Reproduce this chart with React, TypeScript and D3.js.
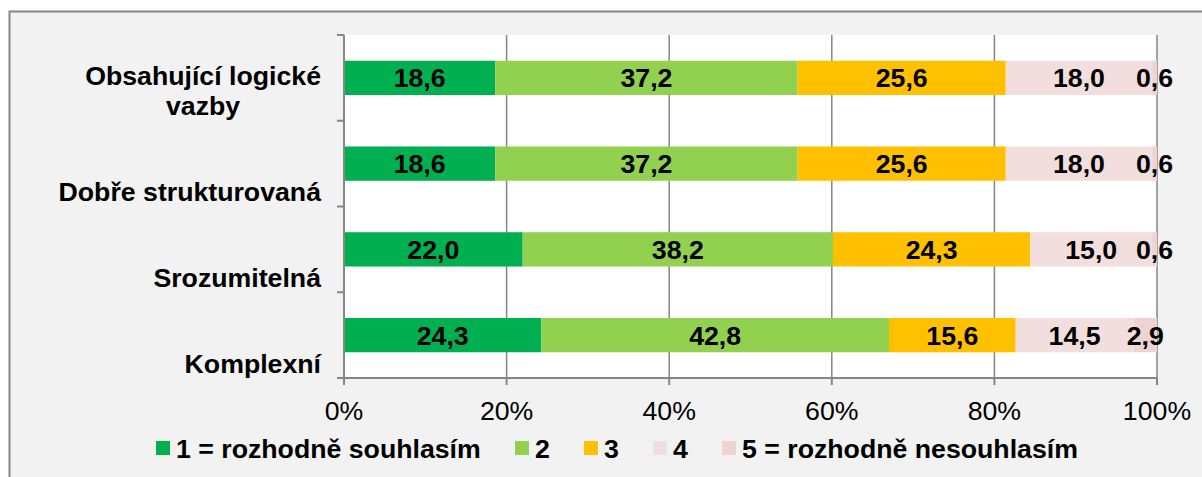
import React, { useEffect, useRef } from 'react';
import * as d3 from 'd3';

// categories, top to bottom
const categories = ['Obsahující logické vazby', 'Dobře strukturovaná', 'Srozumitelná', 'Komplexní'];
const categoryLines = [['Obsahující logické', 'vazby'], ['Dobře strukturovaná'], ['Srozumitelná'], ['Komplexní']];

const seriesNames = ['1 = rozhodně souhlasím', '2', '3', '4', '5 = rozhodně nesouhlasím'];
const s1 = [18.6, 18.6, 22.0, 24.3];
const s2 = [37.2, 37.2, 38.2, 42.8];
const s3 = [25.6, 25.6, 24.3, 15.6];
const s4 = [18.0, 18.0, 15.0, 14.5];
const s5 = [0.6, 0.6, 0.6, 2.9];
const xTicks = [0, 0.2, 0.4, 0.6, 0.8, 1];

const colors = ['#00b050', '#92d050', '#ffc000', '#f2dfdd', '#efd3d3'];

const App = () => {
  const svgRef = useRef<SVGSVGElement>(null);

  useEffect(() => {
    const svg = d3.select(svgRef.current);
    svg.selectAll('*').remove();

    const W = 1202, H = 477;
    const font = 'Arial, "Liberation Sans", sans-serif';
    const fs = '26.7px';
    const axisColor = '#868686';

    // outer chart area
    svg.append('rect').attr('x', 0).attr('y', 0).attr('width', W).attr('height', H).attr('fill', '#ffffff');
    svg.append('rect')
      .attr('x', 9.5).attr('y', 11.5).attr('width', W).attr('height', H)
      .attr('fill', '#f2f2f2').attr('stroke', axisColor).attr('stroke-width', 2);

    const left = 344, right = 1157, top = 35, bottom = 378;

    const x = d3.scaleLinear().domain([0, 1]).range([left, right]);
    const y = d3.scaleBand().domain(categories).range([top, bottom]).paddingInner(0.6).paddingOuter(0.3);

    svg.append('rect')
      .attr('x', left).attr('y', top).attr('width', right - left).attr('height', bottom - top)
      .attr('fill', '#ffffff');

    // grid lines
    svg.append('g').selectAll('line')
      .data(xTicks.slice(1))
      .enter().append('line')
      .attr('x1', d => x(d)).attr('x2', d => x(d))
      .attr('y1', top).attr('y2', bottom)
      .attr('stroke', axisColor).attr('stroke-width', 1.5);

    // stacked data, normalised to 100 %
    const series = [s1, s2, s3, s4, s5];
    const rows = categories.map((c, i) => {
      const vals = series.map(s => s[i]);
      const total = d3.sum(vals);
      let acc = 0;
      return vals.map((v, k) => {
        const seg = { cat: c, k, v, x0: acc / total, x1: (acc + v) / total };
        acc += v;
        return seg;
      });
    });

    const bars = svg.append('g');
    rows.forEach(row => {
      bars.selectAll(null)
        .data(row)
        .enter().append('rect')
        .attr('x', d => x(d.x0))
        .attr('y', d => y(d.cat)!)
        .attr('width', d => x(d.x1) - x(d.x0))
        .attr('height', y.bandwidth())
        .attr('fill', d => colors[d.k]);
    });
    rows.forEach(row => {
      bars.selectAll(null)
        .data(row)
        .enter().append('text')
        .attr('x', d => (x(d.x0) + x(d.x1)) / 2)
        .attr('y', d => y(d.cat)! + y.bandwidth() / 2)
        .attr('dy', '0.36em')
        .attr('text-anchor', 'middle')
        .style('font-family', font)
        .style('font-weight', 'bold')
        .style('font-size', fs)
        .attr('fill', '#000000')
        .text(d => d3.format('.1f')(d.v).replace('.', ','));
    });

    // y axis
    svg.append('line')
      .attr('x1', left).attr('x2', left).attr('y1', top).attr('y2', bottom)
      .attr('stroke', axisColor).attr('stroke-width', 2);
    const yTicks = [top, ...categories.map(c => y(c)! + y.bandwidth() / 2 + y.step() / 2)];
    svg.append('g').selectAll('line')
      .data(yTicks)
      .enter().append('line')
      .attr('x1', left - 7).attr('x2', left)
      .attr('y1', d => d).attr('y2', d => d)
      .attr('stroke', axisColor).attr('stroke-width', 2);

    // category labels (bottom aligned, Excel style)
    const labelRight = 321;
    categories.forEach((c, i) => {
      const lines = categoryLines[i];
      const cy = y(c)! + y.bandwidth() / 2 + 28;
      const texts = lines.map((ln, j) => svg.append('text')
        .attr('y', cy - (lines.length - 1 - j) * 30)
        .attr('dy', '0.36em')
        .attr('text-anchor', 'middle')
        .style('font-family', font)
        .style('font-weight', 'bold')
        .style('font-size', fs)
        .attr('fill', '#000000')
        .text(ln));
      const maxW = d3.max(texts, t => (t.node() as SVGTextElement).getComputedTextLength()) || 0;
      texts.forEach(t => t.attr('x', labelRight - maxW / 2));
    });

    // x axis
    svg.append('line')
      .attr('x1', left - 7).attr('x2', right).attr('y1', bottom).attr('y2', bottom)
      .attr('stroke', axisColor).attr('stroke-width', 2);
    svg.append('g').selectAll('line')
      .data(xTicks)
      .enter().append('line')
      .attr('x1', d => x(d)).attr('x2', d => x(d))
      .attr('y1', bottom).attr('y2', bottom + 7)
      .attr('stroke', axisColor).attr('stroke-width', 2);
    svg.append('g').selectAll('text')
      .data(xTicks)
      .enter().append('text')
      .attr('x', d => x(d))
      .attr('y', 410)
      .attr('dy', '0.36em')
      .attr('text-anchor', 'middle')
      .style('font-family', font)
      .style('font-size', fs)
      .attr('fill', '#000000')
      .text(d => d3.format('.0%')(d));

    // legend
    const legendX = [156, 515, 584, 653, 722];
    const legend = svg.append('g');
    seriesNames.forEach((name, i) => {
      legend.append('rect')
        .attr('x', legendX[i]).attr('y', 441)
        .attr('width', 14).attr('height', 14)
        .attr('fill', colors[i]);
      legend.append('text')
        .attr('x', legendX[i] + 20).attr('y', 448)
        .attr('dy', '0.36em')
        .style('font-family', font)
        .style('font-weight', 'bold')
        .style('font-size', fs)
        .attr('fill', '#000000')
        .text(name);
    });
  }, []);

  return (
    <svg ref={svgRef} width={1202} height={477}
      style={{ position: 'absolute', left: 0, top: 0, display: 'block' }} />
  );
};

export default App;
